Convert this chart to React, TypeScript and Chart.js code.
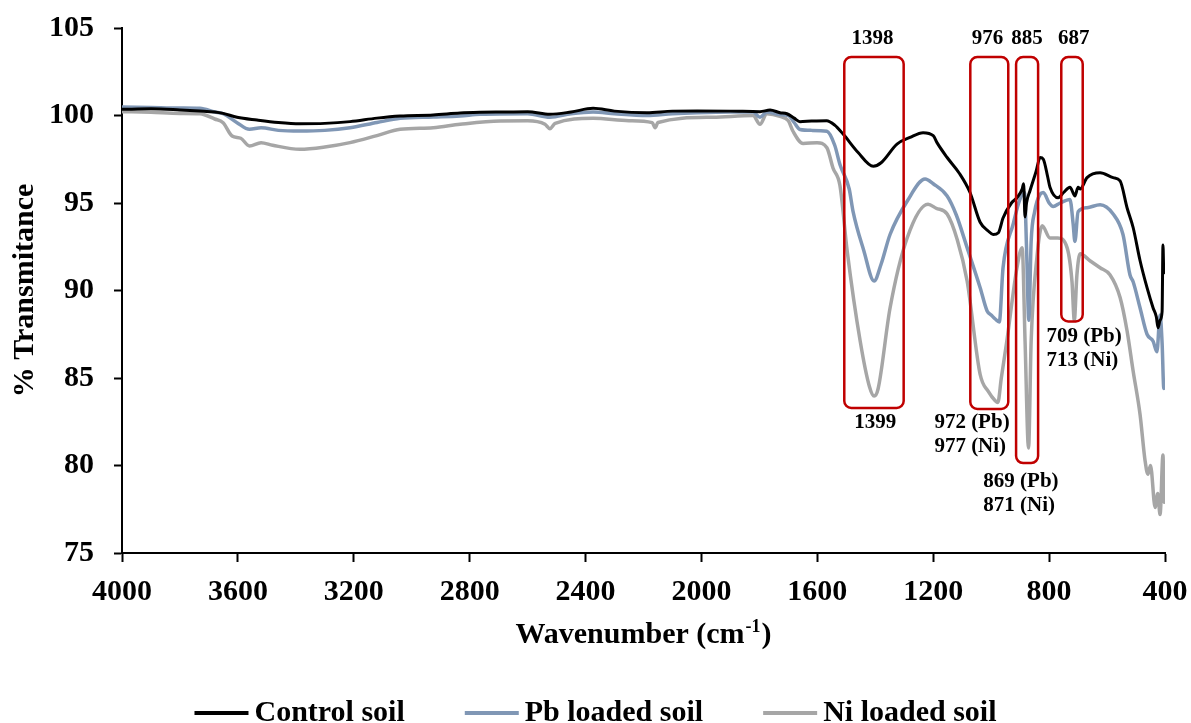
import React, { useEffect, useRef } from "react";
import { Chart, registerables } from "chart.js";

Chart.register(...registerables);

const FONT = '"Liberation Serif", "Times New Roman", serif';

// ---------- data ----------
const controlWn = [4000, 3900, 3800, 3731, 3680, 3651, 3603, 3534, 3460, 3386, 3300, 3213, 3120, 3040, 2926, 2833, 2764, 2695, 2600, 2523, 2450, 2374, 2300, 2188, 2100, 2015, 1900, 1798, 1763, 1729, 1705, 1680, 1660, 1620, 1568, 1540, 1511, 1460, 1407, 1380, 1325, 1280, 1235, 1200, 1187, 1152, 1110, 1073, 1038, 1010, 993, 975, 959, 930, 911, 893, 888, 883, 878, 866, 845, 831, 820, 805, 797, 769, 750, 728, 715, 711, 700, 693, 669, 624, 579, 555, 531, 510, 486, 462, 441, 430, 424, 417, 410, 407, 404, 400];
const controlT = [100.35, 100.38, 100.32, 100.26, 100.2, 100.12, 99.9, 99.74, 99.6, 99.53, 99.55, 99.65, 99.85, 99.97, 100.03, 100.14, 100.18, 100.2, 100.22, 100.07, 100.2, 100.41, 100.25, 100.16, 100.25, 100.26, 100.25, 100.22, 100.31, 100.16, 100.1, 99.85, 99.65, 99.68, 99.7, 99.45, 98.94, 97.9, 97.1, 97.3, 98.37, 98.75, 99.02, 98.85, 98.45, 97.6, 96.7, 95.6, 93.9, 93.4, 93.2, 93.3, 94.14, 95.0, 95.3, 95.8, 96.1, 94.2, 95.0, 95.7, 96.8, 97.6, 97.5, 96.5, 95.9, 95.3, 95.6, 95.9, 95.5, 95.4, 95.9, 95.8, 96.45, 96.73, 96.45, 96.26, 94.73, 93.6, 91.7, 90.16, 89.0, 88.5, 87.87, 88.3, 88.8, 92.6, 91.0, 91.3];

const pbWn = [4000, 3900, 3800, 3731, 3680, 3651, 3603, 3560, 3520, 3460, 3386, 3300, 3213, 3120, 3040, 2926, 2833, 2764, 2600, 2523, 2450, 2374, 2300, 2188, 2100, 2015, 1900, 1822, 1798, 1774, 1729, 1700, 1680, 1660, 1620, 1567, 1540, 1522, 1490, 1477, 1440, 1404, 1380, 1349, 1290, 1228, 1200, 1152, 1120, 1083, 1038, 1014, 1000, 986, 972, 959, 924, 905, 893, 885, 878, 870, 862, 850, 831, 820, 800, 786, 762, 728, 717, 711, 700, 669, 624, 579, 545, 521, 510, 486, 462, 441, 428, 417, 410, 404, 400];
const pbT = [100.49, 100.46, 100.43, 100.41, 100.2, 100.1, 99.59, 99.21, 99.3, 99.15, 99.11, 99.15, 99.3, 99.6, 99.84, 99.91, 99.97, 100.07, 100.1, 99.9, 100.1, 100.2, 100.1, 100.0, 100.1, 100.16, 100.2, 100.2, 99.9, 100.2, 100.05, 100.0, 99.6, 99.2, 99.15, 99.1, 98.3, 97.2, 95.8, 94.54, 92.3, 90.54, 91.5, 93.2, 95.1, 96.37, 96.1, 95.4, 94.3, 92.45, 90.16, 88.83, 88.6, 88.37, 88.2, 91.3, 93.8, 95.0, 95.5, 95.6, 92.5, 88.3, 92.8, 94.5, 95.5, 95.6, 95.0, 94.8, 95.0, 95.2, 93.8, 92.8, 94.5, 94.73, 94.9, 94.37, 93.2, 90.9, 90.5, 89.0, 87.5, 87.1, 86.5, 88.6, 87.0, 84.4, 84.5];

const niWn = [4000, 3900, 3800, 3731, 3680, 3651, 3620, 3590, 3560, 3520, 3480, 3386, 3300, 3213, 3120, 3040, 2926, 2833, 2695, 2600, 2540, 2523, 2505, 2374, 2250, 2170, 2160, 2150, 1960, 1822, 1798, 1774, 1729, 1700, 1684, 1649, 1601, 1567, 1546, 1522, 1497, 1452, 1420, 1404, 1390, 1349, 1290, 1218, 1190, 1152, 1117, 1083, 1038, 1010, 986, 977, 965, 946, 911, 893, 883, 871, 862, 842, 824, 797, 770, 738, 721, 713, 704, 693, 659, 624, 590, 555, 531, 510, 486, 469, 459, 450, 434, 425, 417, 407, 403, 400];
const niT = [100.22, 100.18, 100.12, 100.1, 99.8, 99.59, 98.83, 98.7, 98.26, 98.45, 98.3, 98.07, 98.2, 98.45, 98.85, 99.21, 99.3, 99.5, 99.69, 99.7, 99.5, 99.25, 99.55, 99.84, 99.7, 99.59, 99.3, 99.6, 99.9, 100.0, 99.5, 100.1, 99.95, 99.7, 99.1, 98.4, 98.45, 98.16, 97.0, 96.0, 92.26, 87.1, 84.5, 83.97, 84.4, 89.0, 93.0, 94.93, 94.7, 94.37, 92.9, 90.54, 85.2, 84.23, 83.7, 83.6, 85.0, 87.1, 91.3, 92.45, 87.1, 81.0, 87.1, 91.9, 93.7, 93.0, 93.0, 92.45, 90.5, 88.3, 90.9, 92.1, 91.7, 91.3, 90.9, 89.6, 87.7, 85.4, 82.9, 80.3, 79.5, 80.0, 77.6, 78.4, 77.2, 80.6, 77.9, 78.0];

const seriesNames = ["Control soil", "Pb loaded soil", "Ni loaded soil"];
const seriesColors = ["#000000", "#8097b5", "#a6a6a6"];

const xMin = 400;
const xMax = 4000;
const xStep = 400;
const yMin = 75;
const yMax = 105;
const yStep = 5;

const yTitle = "% Transmitance";
const xTitleMain = "Wavenumber (cm";
const xTitleSup = "-1";
const xTitleEnd = ")";

// peak annotation boxes (in wavenumber / %T units)
const boxHi = [1507, 1072, 914, 758];
const boxLo = [1302, 941, 838, 684];
const boxTop = [103.34, 103.34, 103.34, 103.34];
const boxBottom = [83.29, 83.23, 80.14, 88.23];

// annotation texts
const noteText = ["1398", "976", "885", "687", "1399", "972 (Pb)", "977 (Ni)", "869 (Pb)", "871 (Ni)", "709 (Pb)", "713 (Ni)"];
const noteWn = [1410, 1013, 876, 715, 1400, 1196, 1196, 1027, 1027, 809, 809];
const noteT = [104.4, 104.4, 104.4, 104.4, 82.43, 82.45, 81.07, 79.07, 77.7, 87.36, 85.99];
const noteAlign = ["center", "center", "center", "center", "center", "left", "left", "left", "left", "left", "left"];

const toPoints = (xs: number[], ys: number[]) => xs.map((x, i) => ({ x, y: ys[i] }));

const annotPlugin = {
  id: "ftirAnnotations",
  afterDatasetsDraw(chart: any) {
    const { ctx, scales } = chart;
    const x = scales.x;
    const y = scales.y;
    ctx.save();
    ctx.strokeStyle = "#c00000";
    ctx.lineWidth = 2.5;
    for (let i = 0; i < boxHi.length; i++) {
      const x1 = x.getPixelForValue(boxHi[i]);
      const x2 = x.getPixelForValue(boxLo[i]);
      const y1 = y.getPixelForValue(boxTop[i]);
      const y2 = y.getPixelForValue(boxBottom[i]);
      const r = 7;
      const w = x2 - x1;
      const h = y2 - y1;
      ctx.beginPath();
      ctx.moveTo(x1 + r, y1);
      ctx.lineTo(x1 + w - r, y1);
      ctx.arcTo(x1 + w, y1, x1 + w, y1 + r, r);
      ctx.lineTo(x1 + w, y1 + h - r);
      ctx.arcTo(x1 + w, y1 + h, x1 + w - r, y1 + h, r);
      ctx.lineTo(x1 + r, y1 + h);
      ctx.arcTo(x1, y1 + h, x1, y1 + h - r, r);
      ctx.lineTo(x1, y1 + r);
      ctx.arcTo(x1, y1, x1 + r, y1, r);
      ctx.closePath();
      ctx.stroke();
    }
    ctx.fillStyle = "#000";
    ctx.font = `bold 21px ${FONT}`;
    ctx.textBaseline = "middle";
    for (let i = 0; i < noteText.length; i++) {
      ctx.textAlign = noteAlign[i] as CanvasTextAlign;
      ctx.fillText(noteText[i], x.getPixelForValue(noteWn[i]), y.getPixelForValue(noteT[i]));
    }
    ctx.restore();
  },
  afterDraw(chart: any) {
    const { ctx, chartArea } = chart;
    ctx.save();
    ctx.fillStyle = "#000";
    ctx.textBaseline = "alphabetic";
    ctx.textAlign = "left";
    // x axis title with superscript
    const big = `bold 30px ${FONT}`;
    const small = `bold 18px ${FONT}`;
    ctx.font = big;
    const w1 = ctx.measureText(xTitleMain).width;
    const w3 = ctx.measureText(xTitleEnd).width;
    ctx.font = small;
    const w2 = ctx.measureText(xTitleSup).width;
    const total = w1 + w2 + w3 + 2;
    let tx = (chartArea.left + chartArea.right) / 2 - total / 2;
    const ty = 643;
    ctx.font = big;
    ctx.fillText(xTitleMain, tx, ty);
    tx += w1 + 1;
    ctx.font = small;
    ctx.fillText(xTitleSup, tx, ty - 11);
    tx += w2 + 1;
    ctx.font = big;
    ctx.fillText(xTitleEnd, tx, ty);

    // legend
    const lineLen = 54;
    const gapText = 6;
    const gapItem = 60;
    ctx.font = `bold 30px ${FONT}`;
    const widths = seriesNames.map((n) => ctx.measureText(n).width);
    const legendW = widths.reduce((a, b) => a + b, 0) + seriesNames.length * (lineLen + gapText) + (seriesNames.length - 1) * gapItem;
    let lx = chart.width / 2 - legendW / 2;
    const ly = 713;
    for (let i = 0; i < seriesNames.length; i++) {
      ctx.strokeStyle = seriesColors[i];
      ctx.lineWidth = 4;
      ctx.beginPath();
      ctx.moveTo(lx, ly);
      ctx.lineTo(lx + lineLen, ly);
      ctx.stroke();
      lx += lineLen + gapText;
      ctx.fillStyle = "#000";
      ctx.fillText(seriesNames[i], lx, 721);
      lx += widths[i] + gapItem;
    }
    ctx.restore();
  },
};

export default function App() {
  const canvasRef = useRef<HTMLCanvasElement | null>(null);

  useEffect(() => {
    document.body.style.margin = "0";
    const canvas = canvasRef.current;
    if (!canvas) return;
    const tickFont = { family: FONT, size: 30, weight: "bold" as const };
    const chart = new Chart(canvas, {
      type: "line",
      data: {
        datasets: [
          { label: seriesNames[0], data: toPoints(controlWn, controlT), borderColor: seriesColors[0], backgroundColor: seriesColors[0], borderWidth: 3 },
          { label: seriesNames[1], data: toPoints(pbWn, pbT), borderColor: seriesColors[1], backgroundColor: seriesColors[1], borderWidth: 3.5 },
          { label: seriesNames[2], data: toPoints(niWn, niT), borderColor: seriesColors[2], backgroundColor: seriesColors[2], borderWidth: 3.5 },
        ],
      },
      options: {
        responsive: false,
        animation: false,
        devicePixelRatio: 1,
        layout: { padding: { top: 28, right: 26, bottom: 0, left: 0 } },
        elements: { point: { radius: 0 }, line: { cubicInterpolationMode: "monotone", borderJoinStyle: "round", borderCapStyle: "round" } },
        plugins: { legend: { display: false }, tooltip: { enabled: false } },
        scales: {
          x: {
            type: "linear",
            reverse: true,
            min: xMin,
            max: xMax,
            afterFit: (s: any) => { s.height = 170; s.paddingLeft = 0; s.paddingRight = 0; },
            grid: { drawOnChartArea: false, drawTicks: true, tickLength: 9, tickWidth: 2, color: "#000" },
            border: { display: true, color: "#000", width: 2 },
            ticks: { stepSize: xStep, color: "#000", font: tickFont, padding: 12, maxRotation: 0, autoSkip: false, callback: (v: any) => String(v) },
          },
          y: {
            min: yMin,
            max: yMax,
            afterFit: (s: any) => { s.width = 122; s.paddingTop = 0; s.paddingBottom = 0; },
            grid: { drawOnChartArea: false, drawTicks: true, tickLength: 8, tickWidth: 2, color: "#000" },
            border: { display: true, color: "#000", width: 2 },
            ticks: { stepSize: yStep, color: "#000", font: tickFont, padding: 20, callback: (v: any) => String(v) },
            title: { display: true, text: yTitle, color: "#000", font: { family: FONT, size: 30, weight: "bold" }, padding: { top: 7, bottom: 0 } },
          },
        },
      },
      plugins: [annotPlugin],
    } as any);
    return () => chart.destroy();
  }, []);

  return (
    <div style={{ width: 1191, height: 723, background: "#fff" }}>
      <canvas ref={canvasRef} width={1191} height={723} style={{ display: "block", width: 1191, height: 723 }} />
    </div>
  );
}
